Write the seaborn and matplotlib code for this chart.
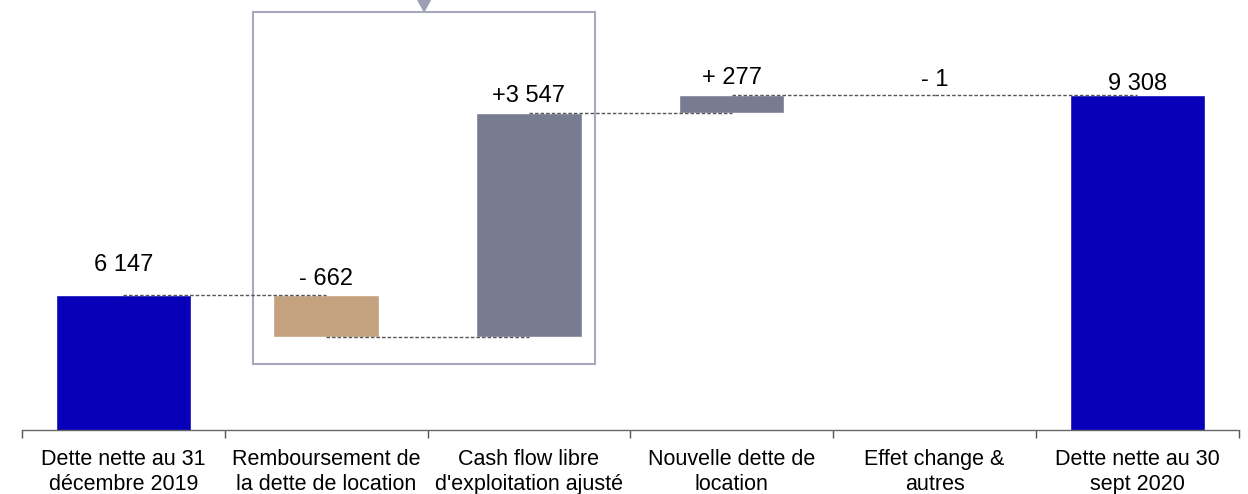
import numpy as np
import pandas as pd
import seaborn as sns
import matplotlib
matplotlib.use("Agg")
import matplotlib.pyplot as plt
from matplotlib.patches import Rectangle, Polygon

# data
categories = ["Dette nette au 31\ndécembre 2019",
              "Remboursement de\nla dette de location",
              "Cash flow libre\nd'exploitation ajusté",
              "Nouvelle dette de\nlocation",
              "Effet change &\nautres",
              "Dette nette au 30\nsept 2020"]
values = [6147, -662, 3547, 277, -1, 9308]
kinds = ["total", "delta", "delta", "delta", "delta", "total"]
value_labels = ["6 147", "- 662", "+3 547", "+ 277", "- 1", "9 308"]
groups = ["blue", "brown", "gray", "gray", "gray", "blue"]

colors = {"blue": "#0800b8", "brown": "#c4a17f", "gray": "#787c92"}
label_pad = [17, 7, 8, 8, 7, 4]  # points above the bar top

# build bottoms/heights of the waterfall
bottoms, heights, tops, levels = [], [], [], []
level = 0
for v, k in zip(values, kinds):
    if k == "total":
        bottoms.append(0)
        heights.append(v)
        level = v
    else:
        bottoms.append(level if v > 0 else level + v)
        heights.append(abs(v))
        level += v
    tops.append(bottoms[-1] + heights[-1])
    levels.append(level)

df = pd.DataFrame({"cat": categories, "height": heights, "bottom": bottoms,
                   "kind": kinds, "group": groups})

sns.set_style("white")
plt.rcParams["font.family"] = ["Liberation Sans", "DejaVu Sans"]

fig = plt.figure(figsize=(12.48, 4.94), dpi=100)
ax = fig.add_axes([22 / 1248, 1 - 430 / 494, 1216.7 / 1248, 430 / 494])

for g in ["blue", "brown", "gray"]:
    sub = df[df.group == g]
    w = 0.666 if g == "blue" else 0.52
    sns.barplot(data=sub, x="cat", y="height", order=categories, color=colors[g],
                width=w, bottom=sub["bottom"].values, errorbar=None,
                saturation=1, ax=ax, zorder=2)

# dashed connectors between bar centres
for i in range(len(values) - 1):
    ax.plot([i, i + 1], [levels[i], levels[i]], ls=(0, (2.5, 1.5)), lw=1,
            color="#555555", zorder=3)

for i, lab in enumerate(value_labels):
    ax.annotate(lab, xy=(i, tops[i]), xytext=(0, label_pad[i]),
                textcoords="offset points", ha="center", va="baseline",
                fontsize=17, color="black")

ax.set_ylim(4010, 10817)
ax.set_xlim(-0.5, 5.5)
ax.set_xlabel("")
ax.set_ylabel("")
ax.set_yticks([])
ax.set_xticks(np.arange(-0.5, 6), minor=True)
ax.tick_params(axis="x", which="major", bottom=False, length=0, pad=14,
               labelsize=15.5, labelcolor="black")
ax.tick_params(axis="x", which="minor", bottom=True, length=5.5, width=1,
               color="#555555")
for s in ["left", "top", "right"]:
    ax.spines[s].set_visible(False)
ax.spines["bottom"].set_color("#666666")
ax.spines["bottom"].set_linewidth(1)
for t in ax.get_xticklabels():
    t.set_linespacing(1.22)

# highlight box with pointer
ax.add_patch(Rectangle((0.190, 0.1535), 0.281, 0.8185, transform=ax.transAxes,
                       fill=False, ec="#a6a9bd", lw=1.5, clip_on=False, zorder=1))
ax.add_patch(Polygon([(0.3305 - 0.0068, 1.005), (0.3305 + 0.0068, 1.005),
                      (0.3305, 0.97)], closed=True, transform=ax.transAxes,
                     fc="#9d9fb3", ec="none", clip_on=False, zorder=1))

fig.savefig("out.png", dpi=100)
